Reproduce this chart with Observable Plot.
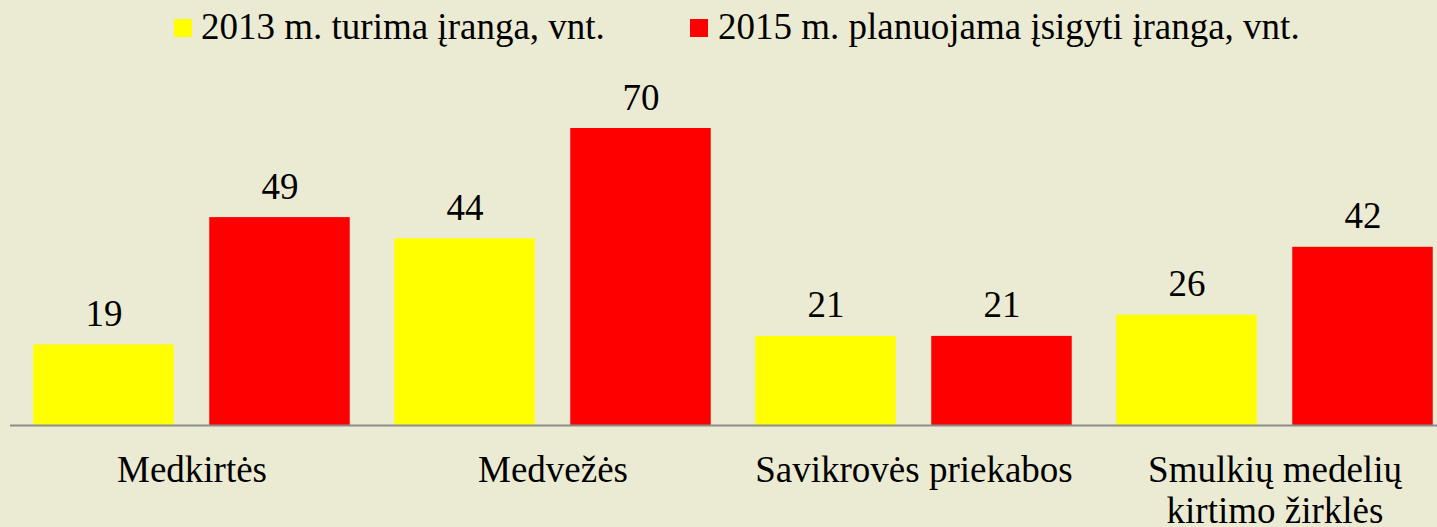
<!DOCTYPE html>
<html>
<head>
<meta charset="utf-8">
<script src="https://cdn.jsdelivr.net/npm/d3@7"></script>
<script src="https://cdn.jsdelivr.net/npm/@observablehq/plot@0.6"></script>
<style>
  html, body { margin: 0; padding: 0; background: #EBEBD3; }
  body { width: 1437px; height: 527px; overflow: hidden; font-family: "Liberation Serif", "Times New Roman", serif; color: #000; }
  #legend { position: relative; height: 55px; font-size: 37px; line-height: 37px; }
  .item { position: absolute; top: 8px; white-space: nowrap; }
  .sw { position: absolute; top: 19px; width: 18px; height: 18px; }
  #chart svg { display: block; font-family: "Liberation Serif", "Times New Roman", serif !important; }
</style>
</head>
<body>
<div id="legend"></div>
<div id="chart"></div>
<script>
// ---- data ----
const categories = ["Medkirtės", "Medvežės", "Savikrovės priekabos", "Smulkių medelių kirtimo žirklės"];
const tickLabels = ["Medkirtės", "Medvežės", "Savikrovės priekabos", "Smulkių medelių\nkirtimo žirklės"];
const seriesNames = ["2013 m. turima įranga, vnt.", "2015 m. planuojama įsigyti įranga, vnt."];
const values2013 = [19, 44, 21, 26];
const values2015 = [49, 70, 21, 42];
const seriesColors = ["#FFFF00", "#FF0000"];

const data2013 = categories.map((c, i) => ({category: c, value: values2013[i], series: seriesNames[0]}));
const data2015 = categories.map((c, i) => ({category: c, value: values2015[i], series: seriesNames[1]}));

// ---- legend ----
const legend = document.getElementById("legend");
const legendPos = [[174, 201], [690, 718]];
seriesNames.forEach((name, i) => {
  const sw = document.createElement("div");
  sw.className = "sw";
  sw.style.left = legendPos[i][0] + "px";
  sw.style.background = seriesColors[i];
  legend.appendChild(sw);
  const t = document.createElement("div");
  t.className = "item";
  t.style.left = legendPos[i][1] + "px";
  t.textContent = name;
  legend.appendChild(t);
});

// ---- chart ----
const serif = "'Liberation Serif', 'Times New Roman', serif";
const step = 361.5;
const plot = Plot.plot({
  width: 1437,
  height: 472,
  marginLeft: 10,
  marginRight: 0,
  marginTop: 73,
  marginBottom: 102,
  style: `background: transparent; font-family: ${serif}; color: #000;`,
  x: {type: "band", domain: categories, range: [9.75, 9.75 + 4 * step], padding: 0, label: null},
  y: {domain: [0, 70], axis: null},
  marks: [
    Plot.barY(data2013, {x: "category", y: "value", fill: seriesColors[0], insetLeft: 22.25, insetRight: 198.25}),
    Plot.barY(data2015, {x: "category", y: "value", fill: seriesColors[1], insetLeft: 198.25, insetRight: 22.25}),
    Plot.ruleY([0], {stroke: "#8C8C8C", strokeWidth: 2}),
    Plot.text(data2013, {x: "category", y: "value", text: d => String(d.value), dx: -88, dy: -19, lineAnchor: "bottom", fontSize: 37, fontFamily: serif, fill: "#000"}),
    Plot.text(data2015, {x: "category", y: "value", text: d => String(d.value), dx: 88, dy: -19, lineAnchor: "bottom", fontSize: 37, fontFamily: serif, fill: "#000"}),
    Plot.axisX({
      tickSize: 0,
      tickPadding: 28,
      fontSize: 37,
      fontFamily: serif,
      lineHeight: 1.1,
      tickFormat: c => tickLabels[categories.indexOf(c)],
      label: null
    })
  ]
});
document.getElementById("chart").appendChild(plot);
</script>
</body>
</html>
